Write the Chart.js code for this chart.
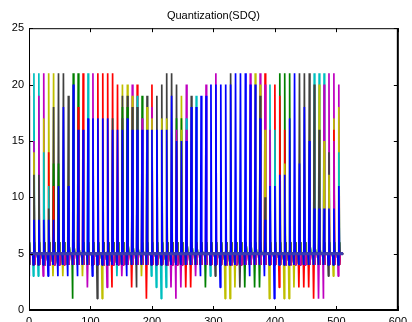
<!DOCTYPE html>
<html>
<head>
<meta charset="utf-8">
<script src="https://cdn.jsdelivr.net/npm/chart.js@4.4.1/dist/chart.umd.min.js"></script>
<style>
  html, body { margin: 0; padding: 0; background: #fff; overflow: hidden; }
  #wrap { width: 412px; height: 330px; }
</style>
</head>
<body>
<div id="wrap"><canvas id="chart"></canvas></div>
<script>
// ── DATA ──
const xTicks = [0, 100, 200, 300, 400, 500, 600];
const yTicks = [0, 5, 10, 15, 20, 25];

// one spike every 8 samples
const spikeX = [0, 8, 16, 24, 32, 40, 48, 56, 64, 72, 80, 88, 96, 104, 112, 120,
    128, 136, 144, 152, 160, 168, 176, 184, 192, 200, 208, 216, 224, 232, 240, 248,
    256, 264, 272, 280, 288, 296, 304, 312, 320, 328, 336, 344, 352, 360, 368, 376,
    384, 392, 400, 408, 416, 424, 432, 440, 448, 456, 464, 472, 480, 488, 496, 504];

// height of the blue series (drawn on top) at each spike
const bluePeak = [15, 8, 8, 8, 8, 8, 11, 18, 11, 20,
    16, 16, 17, 17, 17, 17, 17, 16, 16, 16,
    17, 16, 16, 16, 16, 16, 16, 16, 16, 19,
    15, 15, 15, 18, 18, 19, 19, 20, 20, 20,
    20, 20, 21, 21, 21, 20, 20, 17, 8, 11,
    11, 12, 12, 17, 21, 13, 18, 15, 9, 9,
    9, 9, 9, 11];

// coloured pieces seen above the blue, top to bottom (colour letter + value)
const upperStack = [
    'r21 c19', 'c21 m15 y14 k12', 'c21 m19 k12', 'm21 y17 c14', 'y21 r14 c11 k9',
    'y21 k18 g13 r11', 'k21 g13', 'k21', 'k19', 'g21',
    'g21 r18', 'r21', 'c21', 'm21', 'r21',
    'r21', 'r21', 'r21 k17', 'r20', 'y20 k19 g18 k17',
    'y20 k19 g18', 'm20 y19 k18', 'r20 c19 k18', 'g19 m17', 'k19 y18',
    'r20 m18 y17', 'k19', 'k20 y17', 'k21 y17', 'k21',
    'k20 g17 m16', 'y19 g17 y16', 'm20 c17 m16', 'k19', 'c19',
    '', 'm20', '', 'm21', '',
    '', 'k21', '', '', '',
    'm21', 'y21', 'm21 y20 k19', 'r21 m20 y16 k10', 'c20 m16',
    'r20 c16', 'g21 r19', 'g21 r16 y13', 'g21', '',
    'k21', 'k21', 'k21', 'c21 k20', 'c21 y20 k16',
    'c21 m20 y15', 'm21 k14 y12', 'm21 y17 r16 m15', 'm20 y18 c14'];

// deepest dip just before each spike, and the colour that reaches it
const lowColor = ['b', 'c', 'c', 'm', 'b', 'y', 'b', 'y', 'b', 'g',
    'b', 'y', 'm', 'b', 'k', 'y', 'm', 'r', 'c', 'm',
    'b', 'r', 'k', 'y', 'r', 'c', 'c', 'c', 'c', 'm',
    'm', 'm', 'r', 'r', 'm', 'b', 'g', 'c', 'k', 'b',
    'y', 'y', 'y', 'k', 'g', 'b', 'g', 'g', 'b', 'y',
    'b', 'r', 'y', 'y', 'y', 'r', 'r', 'r', 'r', 'm',
    'm', 'k', 'y', 'm'];
const lowValue = [3, 3, 3, 3, 3, 3, 3, 3, 3, 1,
    3, 3, 2, 3, 1, 1, 2, 2, 3, 3,
    3, 2, 2, 3, 1, 3, 2, 1, 2, 2,
    1, 2, 2, 2, 3, 3, 2, 3, 3, 2,
    1, 1, 2, 2, 2, 3, 2, 2, 3, 1,
    1, 2, 1, 1, 2, 2, 2, 2, 1, 1,
    1, 3, 3, 3];

const baseLevel = 5;   // flat level between spikes
const restDip = 4;     // usual sample before a spike
const lastX = 511;

// ── SERIES (MATLAB colour cycle, later ones drawn over earlier ones) ──
const LAYERS = ['g', 'r', 'c', 'm', 'y', 'k', 'b', 'g', 'r', 'c', 'm', 'y', 'k', 'b'];
// sample right after each spike, per series
const afterLevels = [6, 4, 6, 4, 6, 4, 5, 6, 4, 6, 4, 6, 6, 5];
const PALETTE = {b: '#0000ff', g: '#008000', r: '#ff0000', c: '#00bfbf', m: '#bf00bf', y: '#bfbf00', k: '#404040'};
const TOP = LAYERS.length - 1;

const peaks = LAYERS.map(() => spikeX.map(() => baseLevel));
const dips = LAYERS.map(() => spikeX.map(() => restDip));
peaks[TOP] = bluePeak.slice();

// visible pieces must come from series drawn later the lower they sit
upperStack.forEach((s, k) => {
    const segs = s.split(' ').filter(Boolean).map(t => ({c: t[0], v: +t.slice(1)}));
    let limit = TOP;
    for (let i = segs.length - 1; i >= 0; i--) {
        let L = limit - 1;
        while (L >= 0 && LAYERS[L] !== segs[i].c) L--;
        if (L < 0) break;
        peaks[L][k] = segs[i].v;
        limit = L;
    }
});
lowColor.forEach((c, k) => {
    let L = TOP;
    if (c !== 'b') {
        L = TOP - 1;
        while (L >= 0 && LAYERS[L] !== c) L--;
    }
    if (L >= 0) dips[L][k] = lowValue[k];
});

function layerPoints(L) {
    const pts = [];
    spikeX.forEach((x, k) => {
        pts.push({x: Math.max(x - 1, 0), y: dips[L][k]});
        pts.push({x, y: peaks[L][k]});
        pts.push({x: x + 1, y: afterLevels[L]});
        pts.push({x: x + 2, y: baseLevel});
        pts.push({x: x + 6, y: baseLevel});
    });
    pts.push({x: lastX, y: baseLevel});
    return pts;
}

const datasets = [{
    // the many overlapping lines at level 5 read as one thick line
    data: [{x: 0, y: baseLevel}, {x: lastX, y: baseLevel}],
    borderColor: '#3c3cb0', borderWidth: 3
}];
for (let L = TOP; L >= 0; L--) {
    datasets.push({data: layerPoints(L), borderColor: PALETTE[LAYERS[L]], borderWidth: 1.7});
}

// ── box + inward ticks on all four sides ──
const boxTicks = {
    id: 'boxTicks',
    afterDatasetsDraw(chart) {
        const {ctx, chartArea: a, scales: {x, y}} = chart;
        const seg = (x1, y1, x2, y2) => { ctx.beginPath(); ctx.moveTo(x1, y1); ctx.lineTo(x2, y2); ctx.stroke(); };
        ctx.save();
        ctx.strokeStyle = '#000';
        ctx.lineWidth = 1;
        xTicks.forEach(v => {
            const px = Math.round(x.getPixelForValue(v)) + 0.5;
            seg(px, a.bottom, px, a.bottom - 4);
            seg(px, a.top, px, a.top + 4);
        });
        yTicks.forEach(v => {
            const py = Math.round(y.getPixelForValue(v)) + 0.5;
            seg(a.left, py, a.left + 4, py);
            seg(a.right, py, a.right - 4, py);
        });
        seg(a.left + 0.5, a.top, a.left + 0.5, a.bottom);
        seg(a.left, a.top + 0.5, a.right, a.top + 0.5);
        ctx.lineWidth = 2;
        seg(a.left, a.bottom, a.right + 1, a.bottom);
        seg(a.right, a.top, a.right, a.bottom + 1);
        ctx.restore();
    }
};

const FONT = {family: '"Liberation Sans", Arial, sans-serif', size: 11};

new Chart(document.getElementById('chart'), {
    type: 'line',
    data: {datasets},
    plugins: [boxTicks],
    options: {
        responsive: true, maintainAspectRatio: false, animation: false, devicePixelRatio: 1,
        layout: {padding: {left: 0, right: 3, top: 0, bottom: 0}},
        elements: {point: {radius: 0}, line: {tension: 0, borderJoinStyle: 'bevel'}},
        plugins: {
            legend: {display: false},
            tooltip: {enabled: false},
            title: {
                display: true, text: 'Quantization(SDQ)', color: '#000', fullSize: false,
                font: {...FONT, weight: 'normal'}, padding: {top: 9, bottom: 6}
            }
        },
        scales: {
            x: {
                type: 'linear', min: 0, max: 600,
                afterBuildTicks: s => { s.ticks = xTicks.map(v => ({value: v})); },
                ticks: {color: '#000', font: FONT, padding: 5, maxRotation: 0},
                grid: {display: false, drawTicks: false},
                border: {display: false},
                afterFit: s => { s.height = 20; }
            },
            y: {
                min: 0, max: 25,
                afterBuildTicks: s => { s.ticks = yTicks.map(v => ({value: v})); },
                ticks: {color: '#000', font: FONT, padding: 5},
                grid: {display: false, drawTicks: false},
                border: {display: false},
                afterFit: s => { s.width = 29; }
            }
        }
    }
});
</script>
</body>
</html>
